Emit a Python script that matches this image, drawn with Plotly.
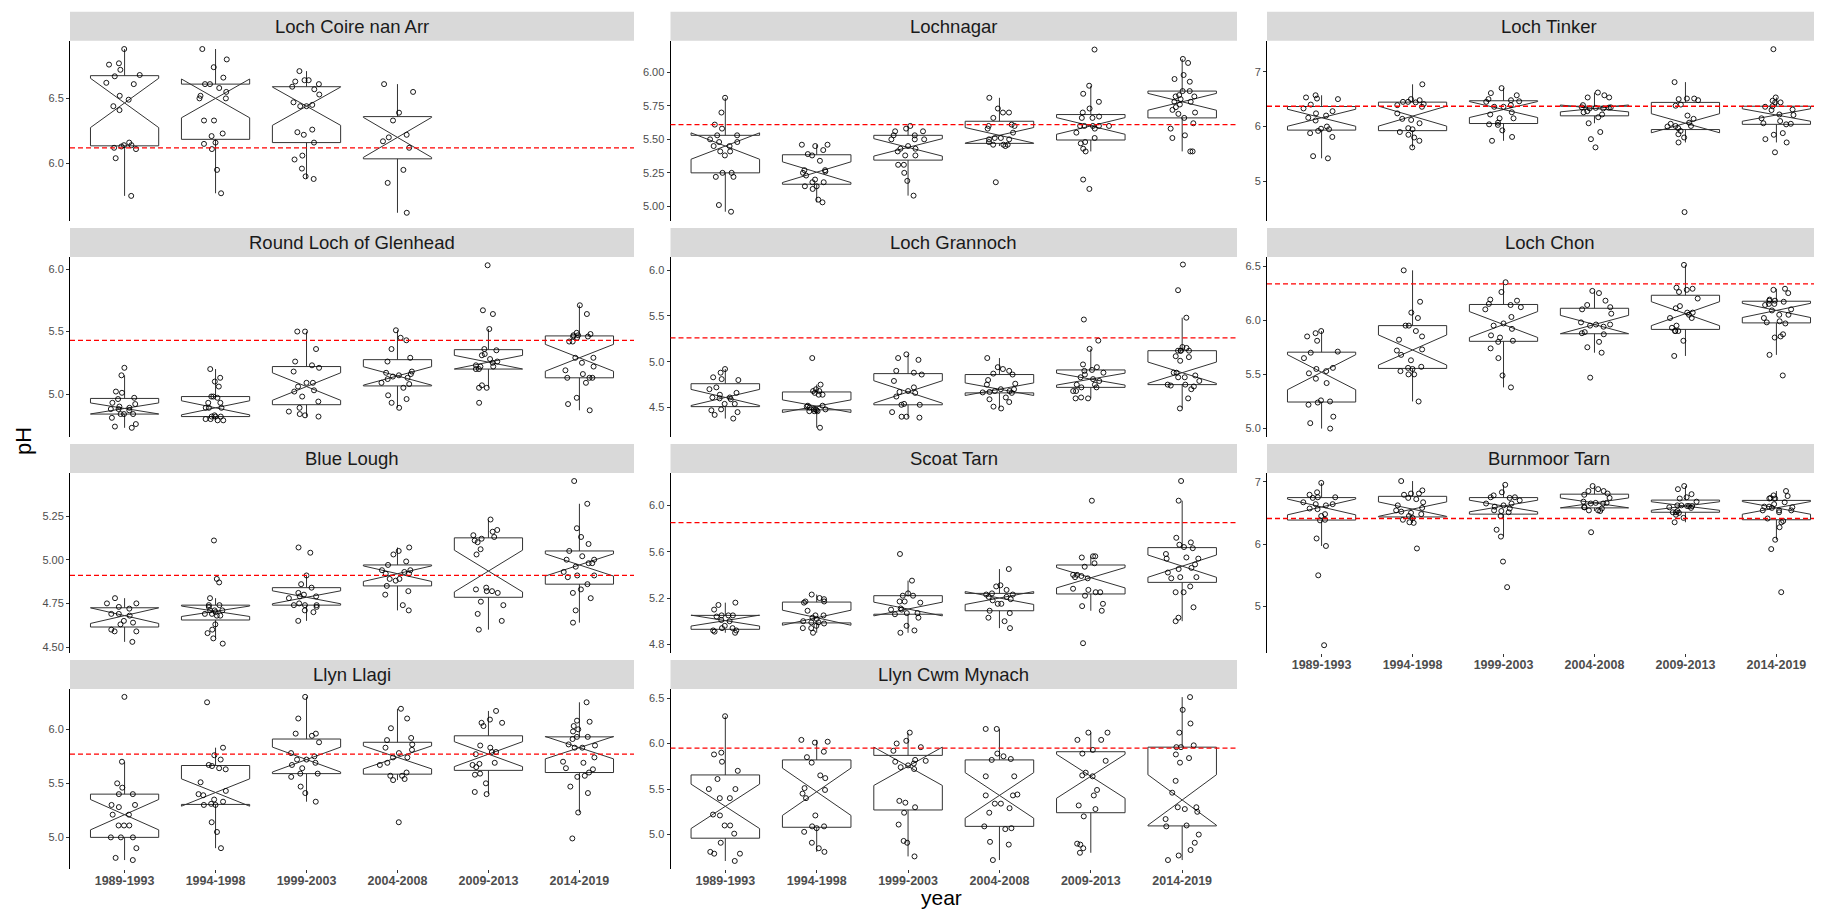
import plotly.graph_objects as go

# ---------------- data ----------------
years = ["1989-1993", "1994-1998", "1999-2003", "2004-2008", "2009-2013", "2014-2019"]

site_names = ["Loch Coire nan Arr", "Lochnagar", "Loch Tinker",
              "Round Loch of Glenhead", "Loch Grannoch", "Loch Chon",
              "Blue Lough", "Scoat Tarn", "Burnmoor Tarn",
              "Llyn Llagi", "Llyn Cwm Mynach"]

loch_coire_nan_arr = [
    [6.88, 6.77, 6.76, 6.72, 6.68, 6.67, 6.62, 6.61, 6.52, 6.49, 6.44, 6.41, 6.16, 6.14, 6.14, 6.13, 6.12, 6.11, 6.04, 5.75],
    [6.88, 6.80, 6.74, 6.66, 6.61, 6.61, 6.58, 6.55, 6.52, 6.50, 6.50, 6.33, 6.33, 6.23, 6.21, 6.16, 6.15, 6.11, 5.95, 5.77],
    [6.71, 6.64, 6.63, 6.64, 6.61, 6.57, 6.59, 6.53, 6.47, 6.45, 6.44, 6.44, 6.24, 6.26, 6.16, 6.22, 6.06, 6.03, 5.96, 5.90, 5.88],
    [6.61, 6.55, 6.39, 6.33, 6.20, 6.22, 6.17, 6.12, 5.95, 5.85, 5.62],
    [],
    [],
]
lochnagar = [
    [5.81, 5.70, 5.61, 5.58, 5.53, 5.53, 5.50, 5.48, 5.48, 5.45, 5.45, 5.41, 5.41, 5.38, 5.25, 5.25, 5.22, 5.22, 5.01, 4.96],
    [5.46, 5.45, 5.46, 5.38, 5.39, 5.42, 5.34, 5.27, 5.26, 5.25, 5.23, 5.20, 5.18, 5.18, 5.15, 5.15, 5.13, 5.05, 5.03, 5.27],
    [5.60, 5.56, 5.58, 5.56, 5.53, 5.50, 5.53, 5.50, 5.50, 5.45, 5.43, 5.43, 5.41, 5.38, 5.38, 5.31, 5.31, 5.25, 5.19, 5.08],
    [5.81, 5.73, 5.70, 5.70, 5.66, 5.61, 5.60, 5.60, 5.58, 5.55, 5.50, 5.50, 5.51, 5.51, 5.46, 5.45, 5.48, 5.46, 5.46, 5.18],
    [6.17, 5.90, 5.84, 5.78, 5.73, 5.66, 5.67, 5.66, 5.70, 5.60, 5.60, 5.60, 5.60, 5.60, 5.58, 5.55, 5.51, 5.48, 5.47, 5.43, 5.41, 5.20, 5.13],
    [6.10, 6.07, 5.98, 5.95, 5.93, 5.86, 5.83, 5.82, 5.82, 5.80, 5.78, 5.76, 5.74, 5.72, 5.70, 5.69, 5.66, 5.62, 5.58, 5.53, 5.51, 5.41, 5.41, 5.78, 5.86],
]
loch_tinker = [
    [6.51, 6.50, 6.57, 6.53, 6.40, 6.33, 6.28, 6.20, 6.24, 6.16, 6.11, 6.00, 5.95, 5.96, 5.92, 5.88, 5.81, 5.42, 5.46],
    [6.77, 6.45, 6.48, 6.50, 6.45, 6.44, 6.41, 6.36, 6.39, 6.24, 6.14, 6.12, 6.06, 5.95, 5.97, 5.90, 5.85, 5.80, 5.74, 5.62],
    [6.70, 6.61, 6.46, 6.48, 6.45, 6.57, 6.50, 6.36, 6.36, 6.39, 6.26, 6.22, 6.15, 6.15, 6.07, 6.04, 6.03, 5.93, 5.81, 5.74],
    [6.62, 6.53, 6.57, 6.53, 6.28, 6.33, 6.39, 6.33, 6.35, 6.345, 6.35, 6.26, 6.22, 6.17, 6.06, 5.90, 5.77, 5.62, 6.34],
    [4.44, 6.81, 6.51, 6.48, 6.50, 6.51, 6.40, 6.38, 6.20, 6.14, 6.05, 6.07, 6.00, 6.01, 6.01, 5.97, 5.92, 5.86, 5.80, 5.71],
    [7.41, 6.53, 6.47, 6.44, 6.44, 6.37, 6.36, 6.31, 6.30, 6.22, 6.21, 6.15, 6.10, 6.06, 6.04, 5.88, 5.85, 5.77, 5.71, 5.53, 6.05],
]
round_loch_of_glenhead = [
    [5.21, 5.15, 5.02, 5.01, 4.97, 4.96, 4.93, 4.92, 4.90, 4.88, 4.88, 4.87, 4.89, 4.84, 4.81, 4.84, 4.84, 4.76, 4.74, 4.73],
    [5.20, 5.13, 5.10, 5.06, 4.97, 4.98, 4.98, 4.93, 4.93, 4.89, 4.89, 4.89, 4.83, 4.82, 4.82, 4.82, 4.80, 4.80, 4.79, 4.79],
    [5.50, 5.50, 5.36, 5.26, 5.23, 5.21, 5.18, 5.09, 5.09, 5.06, 5.02, 5.03, 4.98, 4.94, 4.89, 4.86, 4.84, 4.83, 4.82],
    [5.51, 5.45, 5.43, 5.36, 5.29, 5.26, 5.18, 5.16, 5.17, 5.15, 5.09, 5.14, 5.13, 5.12, 5.05, 5.08, 4.99, 4.96, 4.93, 4.89],
    [6.03, 5.67, 5.64, 5.52, 5.36, 5.35, 5.32, 5.31, 5.26, 5.28, 5.25, 5.23, 5.22, 5.22, 5.20, 5.20, 5.07, 5.05, 5.05, 4.93],
    [5.71, 5.64, 5.48, 5.49, 5.46, 5.47, 5.47, 5.46, 5.45, 5.42, 5.42, 5.29, 5.29, 5.25, 5.22, 5.19, 5.16, 5.13, 5.13, 5.13, 5.09, 4.97, 4.92, 4.87],
]
loch_grannoch = [
    [4.92, 4.88, 4.81, 4.80, 4.83, 4.72, 4.70, 4.66, 4.64, 4.61, 4.60, 4.61, 4.59, 4.54, 4.54, 4.48, 4.47, 4.45, 4.42, 4.38],
    [5.04, 4.75, 4.68, 4.70, 4.68, 4.64, 4.51, 4.66, 4.64, 4.52, 4.52, 4.50, 4.48, 4.46, 4.46, 4.47, 4.46, 4.48, 4.48, 4.28],
    [5.08, 5.04, 5.02, 4.90, 4.88, 4.86, 4.79, 4.72, 4.68, 4.67, 4.62, 4.66, 4.53, 4.54, 4.40, 4.40, 4.39, 4.45, 4.53],
    [5.04, 4.92, 4.94, 4.90, 4.87, 4.86, 4.76, 4.80, 4.75, 4.70, 4.70, 4.68, 4.68, 4.67, 4.66, 4.665, 4.61, 4.59, 4.56, 4.51, 4.49],
    [5.46, 5.23, 5.14, 4.97, 4.94, 4.91, 4.90, 4.88, 4.86, 4.83, 4.81, 4.79, 4.75, 4.75, 4.72, 4.72, 4.68, 4.68, 4.61, 4.60, 4.60],
    [6.06, 5.78, 5.48, 5.16, 5.15, 5.12, 5.12, 5.12, 5.12, 5.06, 5.05, 5.01, 4.88, 4.88, 4.85, 4.83, 4.83, 4.79, 4.75, 4.75, 4.73, 4.70, 4.74, 4.60, 4.49],
]
loch_chon = [
    [5.90, 5.85, 5.88, 5.81, 5.71, 5.70, 5.65, 5.56, 5.55, 5.53, 5.51, 5.46, 5.42, 5.26, 5.25, 5.24, 5.22, 5.11, 5.05, 5.00],
    [6.46, 6.17, 6.07, 6.02, 5.95, 5.95, 5.90, 5.85, 5.82, 5.72, 5.68, 5.63, 5.73, 5.55, 5.57, 5.56, 5.50, 5.50, 5.53, 5.25],
    [6.35, 6.26, 6.19, 6.18, 6.15, 6.14, 6.12, 6.10, 6.03, 5.97, 5.95, 5.92, 5.86, 5.84, 5.81, 5.80, 5.74, 5.65, 5.49, 5.38],
    [6.27, 6.25, 6.18, 6.14, 6.12, 6.10, 6.06, 5.96, 5.98, 5.95, 5.94, 5.89, 5.88, 5.87, 5.80, 5.70, 5.75, 5.47, 5.96],
    [6.51, 6.29, 6.30, 6.26, 6.28, 6.20, 6.11, 6.13, 6.07, 6.07, 6.05, 6.02, 6.02, 5.95, 5.93, 5.90, 5.90, 5.90, 5.81, 5.67],
    [6.28, 6.29, 6.25, 6.15, 6.15, 6.18, 6.18, 6.17, 6.19, 6.14, 6.05, 6.02, 6.05, 6.09, 5.99, 5.97, 5.98, 5.87, 5.85, 5.84, 5.68, 5.49, 6.10],
]
blue_lough = [
    [4.78, 4.75, 4.75, 4.73, 4.72, 4.69, 4.69, 4.68, 4.65, 4.64, 4.60, 4.59, 4.59, 4.63, 4.53],
    [5.11, 4.89, 4.87, 4.78, 4.74, 4.74, 4.73, 4.71, 4.71, 4.71, 4.70, 4.69, 4.69, 4.68, 4.68, 4.63, 4.60, 4.58, 4.55, 4.52],
    [5.07, 5.04, 4.91, 4.86, 4.84, 4.80, 4.81, 4.79, 4.78, 4.79, 4.75, 4.74, 4.74, 4.74, 4.73, 4.71, 4.70, 4.65],
    [5.07, 5.05, 5.03, 4.99, 4.97, 4.94, 4.94, 4.93, 4.92, 4.92, 4.89, 4.89, 4.88, 4.85, 4.82, 4.80, 4.74, 4.71],
    [5.23, 5.17, 5.16, 5.14, 5.13, 5.12, 5.11, 5.10, 5.06, 5.03, 4.84, 4.82, 4.83, 4.82, 4.81, 4.76, 4.74, 4.69, 4.65, 4.60],
    [5.45, 5.32, 5.18, 5.13, 5.09, 5.05, 5.02, 5.00, 5.00, 4.98, 4.98, 4.96, 4.93, 4.91, 4.91, 4.90, 4.86, 4.83, 4.81, 4.78, 4.71, 4.64],
]
scoat_tarn = [
    [5.16, 5.14, 5.10, 5.05, 5.05, 5.04, 5.05, 5.00, 5.01, 4.94, 4.96, 4.94, 4.92, 4.90, 4.91, 4.92],
    [5.23, 5.20, 5.16, 5.17, 5.17, 5.19, 5.09, 5.05, 5.05, 5.03, 5.02, 5.00, 4.99, 4.99, 4.98, 4.96, 4.94, 4.94, 4.90],
    [5.58, 5.35, 5.24, 5.22, 5.22, 5.16, 5.17, 5.17, 5.11, 5.10, 5.10, 5.07, 5.07, 5.06, 5.03, 4.96, 4.92, 4.90],
    [5.45, 5.31, 5.30, 5.23, 5.23, 5.24, 5.27, 5.21, 5.21, 5.15, 5.15, 5.18, 5.19, 5.09, 5.07, 5.03, 5.00, 4.94],
    [6.04, 5.56, 5.56, 5.55, 5.50, 5.47, 5.40, 5.39, 5.40, 5.38, 5.37, 5.28, 5.27, 5.25, 5.25, 5.22, 5.15, 5.13, 5.09, 4.81],
    [6.21, 6.04, 5.72, 5.68, 5.66, 5.64, 5.63, 5.58, 5.54, 5.54, 5.55, 5.49, 5.46, 5.45, 5.42, 5.38, 5.38, 5.37, 5.30, 5.25, 5.25, 5.12, 5.03, 5.00],
]
burnmoor_tarn = [
    [6.98, 6.83, 6.79, 6.75, 6.75, 6.74, 6.64, 6.62, 6.64, 6.67, 6.57, 6.56, 6.48, 6.45, 6.39, 6.38, 6.09, 5.97, 5.50, 4.38],
    [7.01, 6.86, 6.81, 6.81, 6.79, 6.74, 6.72, 6.67, 6.62, 6.54, 6.52, 6.50, 6.48, 6.45, 6.42, 6.39, 6.35, 6.34, 5.93, 6.58],
    [6.95, 6.83, 6.75, 6.78, 6.75, 6.74, 6.70, 6.65, 6.62, 6.54, 6.51, 6.57, 6.53, 6.45, 6.23, 6.12, 5.72, 5.31, 6.60, 6.65],
    [6.93, 6.88, 6.85, 6.85, 6.81, 6.79, 6.74, 6.68, 6.66, 6.65, 6.65, 6.59, 6.66, 6.59, 6.57, 6.53, 6.54, 6.54, 6.19],
    [6.93, 6.88, 6.80, 6.75, 6.73, 6.68, 6.62, 6.61, 6.61, 6.59, 6.58, 6.62, 6.61, 6.53, 6.51, 6.51, 6.50, 6.47, 6.42, 6.35],
    [6.85, 6.78, 6.77, 6.74, 6.73, 6.73, 6.67, 6.64, 6.60, 6.59, 6.54, 6.54, 6.54, 6.51, 6.37, 6.35, 6.41, 6.27, 6.07, 5.92, 5.23, 6.58, 6.60],
]
llyn_llagi = [
    [6.30, 5.70, 5.50, 5.46, 5.40, 5.40, 5.28, 5.30, 5.30, 5.21, 5.21, 5.11, 5.11, 5.11, 5.00, 5.00, 5.00, 4.90, 4.81, 4.79],
    [6.25, 5.83, 5.76, 5.72, 5.66, 5.67, 5.64, 5.63, 5.51, 5.43, 5.40, 5.39, 5.35, 5.33, 5.31, 5.30, 5.30, 5.14, 5.05, 4.90],
    [6.30, 6.10, 5.96, 5.96, 5.94, 5.88, 5.78, 5.75, 5.69, 5.72, 5.67, 5.64, 5.59, 5.59, 5.56, 5.47, 5.41, 5.33, 5.72],
    [6.19, 6.10, 6.01, 5.92, 5.90, 5.86, 5.83, 5.81, 5.78, 5.74, 5.74, 5.69, 5.67, 5.60, 5.57, 5.57, 5.54, 5.53, 5.14],
    [6.17, 6.09, 6.06, 6.06, 6.03, 5.85, 5.83, 5.79, 5.79, 5.77, 5.69, 5.68, 5.67, 5.65, 5.59, 5.58, 5.50, 5.42, 5.40],
    [6.25, 6.07, 6.08, 6.03, 6.00, 5.98, 5.93, 5.93, 5.91, 5.83, 5.85, 5.83, 5.86, 5.74, 5.69, 5.70, 5.64, 5.63, 5.60, 5.56, 5.57, 5.47, 5.41, 5.23, 4.99],
]
llyn_cwm_mynach = [
    [6.30, 5.80, 5.90, 5.88, 5.70, 5.61, 5.50, 5.50, 5.40, 5.40, 5.21, 5.22, 5.10, 5.10, 5.01, 4.91, 4.81, 4.79, 4.79, 4.71],
    [6.04, 6.02, 6.01, 5.91, 5.85, 5.79, 5.62, 5.65, 5.51, 5.49, 5.45, 5.40, 5.21, 5.09, 5.09, 5.07, 5.03, 4.91, 4.85, 4.81],
    [6.12, 6.03, 5.96, 5.92, 6.00, 5.82, 5.81, 5.80, 5.78, 5.76, 5.72, 5.74, 5.37, 5.35, 5.30, 5.24, 5.11, 4.93, 4.91, 4.76],
    [6.16, 6.16, 5.89, 5.86, 5.83, 5.82, 5.64, 5.64, 5.43, 5.34, 5.34, 5.29, 5.24, 5.09, 5.07, 5.06, 4.92, 4.89, 4.72, 5.43, 5.44],
    [6.12, 6.12, 6.04, 6.04, 5.93, 5.89, 5.81, 5.68, 5.64, 5.65, 5.49, 5.43, 5.32, 5.28, 5.20, 4.89, 4.90, 4.85, 4.80],
    [6.51, 6.37, 6.22, 6.12, 5.98, 5.96, 5.96, 5.88, 5.84, 5.79, 5.59, 5.46, 5.30, 5.30, 5.28, 5.25, 5.17, 5.10, 5.09, 5.00, 4.91, 4.83, 4.77, 4.72],
]

reference_ph = [6.12, 5.61, 6.37, 5.43, 5.26, 6.335, 4.91, 5.85, 6.41, 5.77, 5.95]

y_ticks = [
    [6.0, 6.5], [5.00, 5.25, 5.50, 5.75, 6.00], [5, 6, 7],
    [5.0, 5.5, 6.0], [4.5, 5.0, 5.5, 6.0], [5.0, 5.5, 6.0, 6.5],
    [4.50, 4.75, 5.00, 5.25], [4.8, 5.2, 5.6, 6.0], [5, 6, 7],
    [5.0, 5.5, 6.0], [5.0, 5.5, 6.0, 6.5],
]
y_tick_fmt = ["{:.1f}", "{:.2f}", "{:.0f}", "{:.1f}", "{:.1f}", "{:.1f}",
              "{:.2f}", "{:.1f}", "{:.0f}", "{:.1f}", "{:.1f}"]
y_ranges = [
    [5.559, 6.944], [4.893, 6.236], [4.283, 7.565],
    [4.659, 6.096], [4.182, 6.142], [4.925, 6.583],
    [4.468, 5.496], [4.728, 6.279], [4.26, 7.139],
    [4.71, 6.373], [4.625, 6.599],
]

all_sites = [loch_coire_nan_arr, lochnagar, loch_tinker, round_loch_of_glenhead,
             loch_grannoch, loch_chon, blue_lough, scoat_tarn, burnmoor_tarn,
             llyn_llagi, llyn_cwm_mynach]

# ---------------- layout geometry (window pixels) ----------------
OFF = 8                      # default page body margin of the html page
W, H = 1822 - OFF, 910 - OFF
col_px = [(70, 634), (670.5, 1237), (1267, 1822)]
col_full_right = [634, 1237, 1831]      # unclipped panel right edge
row_px = [(40.7, 220.7), (257, 436.7), (473, 652.7), (689, 868.7)]
strip_h = 29
bottom_panels = {9, 10, 8}   # indices showing x labels (Llagi, Cwm Mynach, Burnmoor)


def px_x(x):
    return (x - OFF) / W


def px_y(y):
    return 1 - (y - OFF) / H


fig = go.Figure()
layout = dict(
    width=W, height=H,
    margin=dict(l=0, r=0, t=0, b=0),
    paper_bgcolor="white", plot_bgcolor="white",
    showlegend=False, boxmode="overlay", boxgap=0.25, boxgroupgap=0,
    font=dict(family="Liberation Sans, Arial, sans-serif", color="#4D4D4D"),
)
shapes, annotations = [], []

for i, site in enumerate(all_sites):
    r, c = divmod(i, 3)
    sfx = "" if i == 0 else str(i + 1)
    xs, ys = [], []
    for g, vals in enumerate(site):
        xs += [years[g]] * len(vals)
        ys += vals
    fig.add_trace(go.Box(
        x=xs, y=ys, xaxis=f"x{sfx}", yaxis=f"y{sfx}",
        boxpoints="all", jitter=0.55, pointpos=0,
        notched=True, notchwidth=0.5, whiskerwidth=0,
        quartilemethod="inclusive",
        fillcolor="white", line=dict(color="#333333", width=1),
        marker=dict(symbol="circle-open", color="black", size=5, line=dict(width=0.9, color="black")),
        hoverinfo="y", showlegend=False,
    ))
    x0, x1 = col_px[c]
    y0, y1 = row_px[r]
    spacing = (col_full_right[c] - x0) / 6.2
    xr = [-0.6, -0.6 + (x1 - x0) / spacing]
    is_bottom = i in bottom_panels
    layout[f"xaxis{sfx}"] = dict(
        domain=[px_x(x0), min(1.0, px_x(x1))], anchor=f"y{sfx}", type="category",
        categoryorder="array", categoryarray=years, range=xr,
        showgrid=False, zeroline=False, showline=False,
        showticklabels=is_bottom, ticks="outside" if is_bottom else "",
        ticklen=3, tickcolor="#333333", tickwidth=1, ticklabelstandoff=-3,
        tickfont=dict(size=12.5, color="#4D4D4D", weight="bold"),
    )
    layout[f"yaxis{sfx}"] = dict(
        domain=[px_y(y1), px_y(y0)], anchor=f"x{sfx}", range=y_ranges[i],
        tickvals=y_ticks[i], ticktext=[y_tick_fmt[i].format(v) for v in y_ticks[i]],
        showgrid=False, zeroline=False, showline=True, linecolor="black", linewidth=1,
        ticks="outside", ticklen=3, tickcolor="#333333", tickwidth=1,
        tickfont=dict(size=11, color="#4D4D4D"),
    )
    # reference line
    shapes.append(dict(type="line", xref=f"x{sfx} domain", yref=f"y{sfx}",
                       x0=0, x1=1, y0=reference_ph[i], y1=reference_ph[i],
                       line=dict(color="#FF0000", width=1.3, dash="5px,3px"), layer="above"))
    # strip
    shapes.append(dict(type="rect", xref="paper", yref="paper",
                       x0=px_x(x0), x1=min(1.0, px_x(x1)), y0=px_y(y0), y1=px_y(y0 - strip_h),
                       fillcolor="#D9D9D9", line=dict(width=0), layer="below"))
    annotations.append(dict(text=site_names[i], xref="paper", yref="paper",
                            x=px_x((x0 + col_full_right[c]) / 2), y=px_y(y0 - strip_h / 2),
                            xanchor="center", yanchor="middle", showarrow=False,
                            font=dict(size=18.5, color="#1A1A1A")))

annotations.append(dict(text="pH", xref="paper", yref="paper", x=px_x(24), y=px_y(441),
                        xanchor="center", yanchor="middle", textangle=-90, showarrow=False,
                        borderpad=0, font=dict(size=22, color="black")))
annotations.append(dict(text="year", xref="paper", yref="paper", x=px_x(941), y=0,
                        xanchor="center", yanchor="bottom", showarrow=False, borderpad=0,
                        font=dict(size=21, color="black")))

layout["shapes"] = shapes
layout["annotations"] = annotations
fig.update_layout(**layout)
fig.write_html("out.html")
